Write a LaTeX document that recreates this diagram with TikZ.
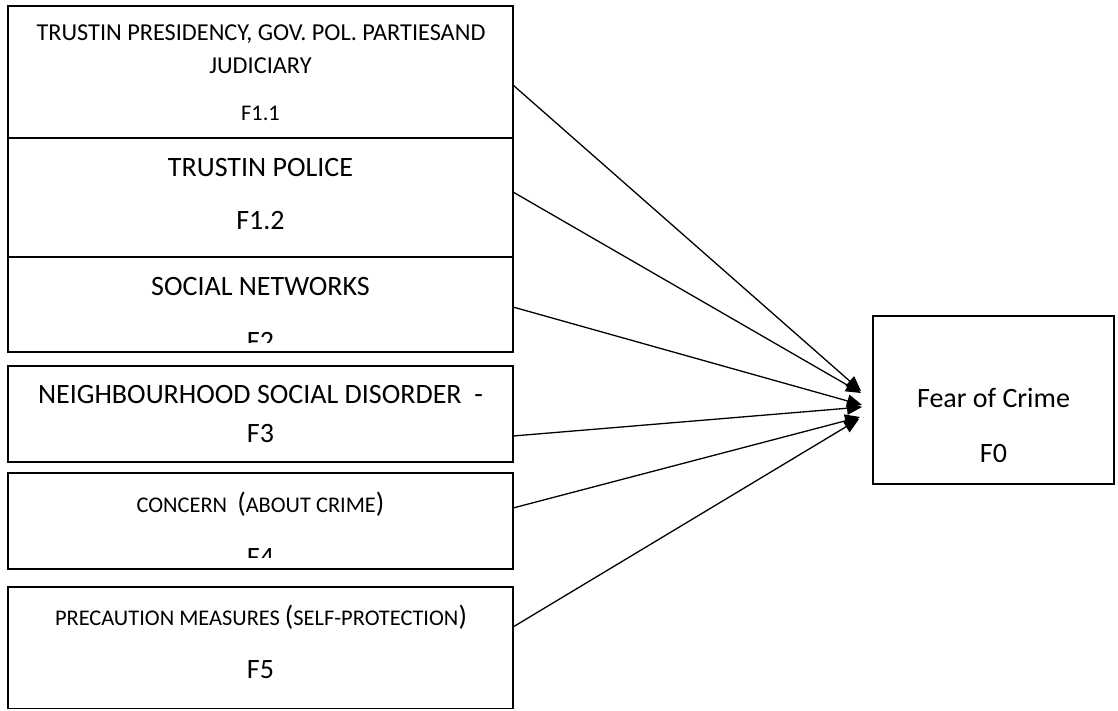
\documentclass[tikz,border=0pt]{standalone}
\usepackage{fontspec}
\setmainfont{Carlito}
\usetikzlibrary{arrows.meta}
\newcommand\FullParen[1]{{\fontsize{28}{34}\selectfont #1}}
\tikzset{
  box/.style={draw, line width=1.6pt, inner sep=0pt, anchor=center},
  big/.style={font=\fontsize{28}{34}\selectfont, anchor=base, inner sep=0pt},
  sml/.style={font=\fontsize{22.4}{27}\selectfont, anchor=base, inner sep=0pt},
  mid/.style={font=\fontsize{24.3}{29}\selectfont, anchor=base, inner sep=0pt},
  arr/.style={line width=1.3pt, -{Triangle[length=15pt,width=13pt]}},
}
\begin{document}
\begin{tikzpicture}[x=1pt,y=-1pt]
\useasboundingbox (0,0) rectangle (1118,710);
% boxes
\node[box, minimum width=505pt, minimum height=132pt] (b1) at (260.5,72) {};
\node[box, minimum width=505pt, minimum height=119pt] (b2) at (260.5,197.5) {};
\node[box, minimum width=505pt, minimum height=95pt] (b3) at (260.5,304.5) {};
\node[box, minimum width=505pt, minimum height=96pt] (b4) at (260.5,414) {};
\node[box, minimum width=505pt, minimum height=96pt] (b5) at (260.5,521) {};
\node[box, minimum width=505pt, minimum height=121.5pt] (b6) at (260.5,647.75) {};
\node[box, minimum width=241pt, minimum height=168pt] (f0) at (993.5,400) {};
% texts
\node[mid] (t11a) at (261,40) {TRUSTIN PRESIDENCY, GOV. POL. PARTIESAND};
\node[mid] (t11b) at (260.5,73) {JUDICIARY};
\node[sml] (t11c) at (260.5,120) {F1.1};
\node[big] (t12a) at (260.5,176) {TRUSTIN POLICE};
\node[big] (t12b) at (260.5,229) {F1.2};
\node[big] (t2a) at (260.5,295) {SOCIAL NETWORKS};
\begin{scope}
\clip (8,257) rectangle (513,342.5);
\node[big] (t2b) at (260.5,350) {F2};
\end{scope}
\node[big] (t3a) at (260.5,403) {NEIGHBOURHOOD SOCIAL DISORDER\ \ -};
\node[big] (t3b) at (260.5,442) {F3};
\node[sml] (t4a) at (260.5,512) {CONCERN\ \ \FullParen{(}ABOUT CRIME\FullParen{)}};
\begin{scope}
\clip (8,473) rectangle (513,557);
\node[big] (t4b) at (260.5,566) {F4};
\end{scope}
\node[sml] (t5a) at (261,625) {PRECAUTION MEASURES \FullParen{(}SELF-PROTECTION\FullParen{)}};
\node[big] (t5b) at (260.5,678) {F5};
\node[big] (t0a) at (993.5,407) {Fear of Crime};
\node[big] (t0b) at (993.5,462) {F0};
% connector ends
\coordinate (s1) at (513,85);
\coordinate (s2) at (513,192);
\coordinate (s3) at (513,307);
\coordinate (s4) at (513,436);
\coordinate (s5) at (513,508);
\coordinate (s6) at (513,627);
\coordinate (e1) at (861,391);
\coordinate (e2) at (861,393);
\coordinate (e3) at (862,405);
\coordinate (e4) at (862,407);
\coordinate (e5) at (860,417);
\coordinate (e6) at (859,419);
\draw[arr] (s1) -- (e1);
\draw[arr] (s2) -- (e2);
\draw[arr] (s3) -- (e3);
\draw[arr] (s4) -- (e4);
\draw[arr] (s5) -- (e5);
\draw[arr] (s6) -- (e6);
\end{tikzpicture}
\end{document}
